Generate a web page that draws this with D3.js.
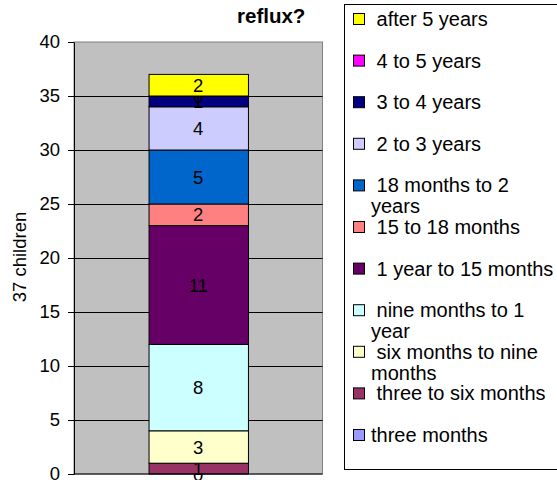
<!DOCTYPE html>
<html>
<head>
<meta charset="utf-8">
<script src="https://cdn.jsdelivr.net/npm/d3@7"></script>
<style>
  body { margin: 0; background: #fff; }
  svg { display: block; font-family: Arial, "Liberation Sans", sans-serif; }
  .legend text { white-space: pre; }
</style>
</head>
<body>
<svg id="chart" width="557" height="480"></svg>
<script>
// series, bottom to top of the stack
const seriesNames = [
  "three months", "three to six months", "six months to nine months",
  "nine months to 1 year", "1 year to 15 months", "15 to 18 months",
  "18 months to 2 years", "2 to 3 years", "3 to 4 years", "4 to 5 years",
  "after 5 years"
];
const seriesValues = [0, 1, 3, 8, 11, 2, 5, 4, 1, 0, 2];
const seriesColors = [
  "#9999FF", "#993366", "#FFFFCC", "#CCFFFF", "#660066", "#FF8080",
  "#0066CC", "#CCCCFF", "#000080", "#FF00FF", "#FFFF00"
];
// legend text, top to bottom, as it wraps in the picture
const legendLines = [
  [" after 5 years"], [" 4 to 5 years"], [" 3 to 4 years"], [" 2 to 3 years"],
  [" 18 months to 2", "years"], [" 15 to 18 months"], [" 1 year to 15 months"],
  [" nine months to 1", "year"], [" six months to nine", "months"],
  [" three to six months"], ["three months"]
];
const yTicks = [0, 5, 10, 15, 20, 25, 30, 35, 40];
const categories = [""];
const titleText = "reflux?";
const yLabel = "37 children";

const svg = d3.select("#chart");

const x = d3.scaleBand().domain(categories).range([74, 322.5])
  .paddingInner(0).paddingOuter(0.75);
const y = d3.scaleLinear().domain([0, 40]).range([474, 42]);

// stacked layout
const rows = [Object.fromEntries(seriesNames.map((n, i) => [n, seriesValues[i]]))];
const stack = d3.stack().keys(seriesNames)(rows);

// plot area
const plot = svg.append("g").attr("class", "plot");
plot.append("rect")
  .attr("x", x.range()[0]).attr("y", y(40))
  .attr("width", x.range()[1] - x.range()[0]).attr("height", y(0) - y(40))
  .attr("fill", "#C0C0C0").attr("stroke", "#808080");

// gridlines
plot.selectAll("line.grid")
  .data(yTicks.filter(d => d > 0 && d < 40))
  .enter().append("line").attr("class", "grid")
  .attr("x1", x.range()[0]).attr("x2", x.range()[1])
  .attr("y1", d => Math.round(y(d)) + 0.5).attr("y2", d => Math.round(y(d)) + 0.5)
  .attr("stroke", "#000");

// bar segments
const seg = plot.selectAll("g.seg").data(stack).enter()
  .append("g").attr("class", "seg");

seg.append("rect")
  .attr("x", x("") + 0.5)
  .attr("y", d => y(d[0][1]))
  .attr("width", x.bandwidth())
  .attr("height", d => y(d[0][0]) - y(d[0][1]))
  .attr("fill", (d, i) => seriesColors[i])
  .attr("stroke", "#000").attr("stroke-width", 1);

// data labels
seg.append("text")
  .attr("x", x("") + x.bandwidth() / 2)
  .attr("y", d => y((d[0][0] + d[0][1]) / 2))
  .attr("dy", "0.36em")
  .attr("text-anchor", "middle")
  .attr("font-size", 18.5)
  .text((d, i) => seriesValues[i]);

// axes
const yAxis = svg.append("g")
  .attr("transform", "translate(" + x.range()[0] + ",0)")
  .call(d3.axisLeft(y).tickValues(yTicks).tickSize(6).tickPadding(8).tickSizeOuter(0));
yAxis.selectAll("text").attr("font-size", 18.5).attr("fill", "#000")
  .attr("font-family", "Arial, 'Liberation Sans', sans-serif");
yAxis.selectAll("line").attr("stroke", "#000");
yAxis.select(".domain").attr("stroke", "#000");

svg.append("line")
  .attr("x1", x.range()[0]).attr("x2", x.range()[1])
  .attr("y1", y(0)).attr("y2", y(0)).attr("stroke", "#000");

// axis title
svg.append("text")
  .attr("transform", "translate(26," + 257 + ") rotate(-90)")
  .attr("text-anchor", "middle").attr("font-size", 18.5)
  .text(yLabel);

// chart title
svg.append("text")
  .attr("x", 237).attr("y", 23)
  .attr("font-size", 20.5).attr("font-weight", "bold")
  .text(titleText);

// legend
const legend = svg.append("g").attr("class", "legend");
legend.append("rect")
  .attr("x", 344.5).attr("y", 4.5).attr("width", 230).attr("height", 465)
  .attr("fill", "#fff").attr("stroke", "#000");

const legendOrder = seriesNames.map((n, i) => i).reverse();
const item = legend.selectAll("g.item").data(legendOrder).enter()
  .append("g").attr("class", "item")
  .attr("transform", (d, k) => "translate(0," + (26 + k * 41.6) + ")");

item.append("rect")
  .attr("x", 353.5).attr("y", -12.5).attr("width", 11).attr("height", 11)
  .attr("fill", d => seriesColors[d]).attr("stroke", "#000");

item.each(function (d, k) {
  const lines = legendLines[k];
  d3.select(this).selectAll("text").data(lines).enter()
    .append("text")
    .attr("x", 371).attr("y", (t, j) => j * 21)
    .attr("font-size", 20)
    .text(t => t);
});
</script>
</body>
</html>
